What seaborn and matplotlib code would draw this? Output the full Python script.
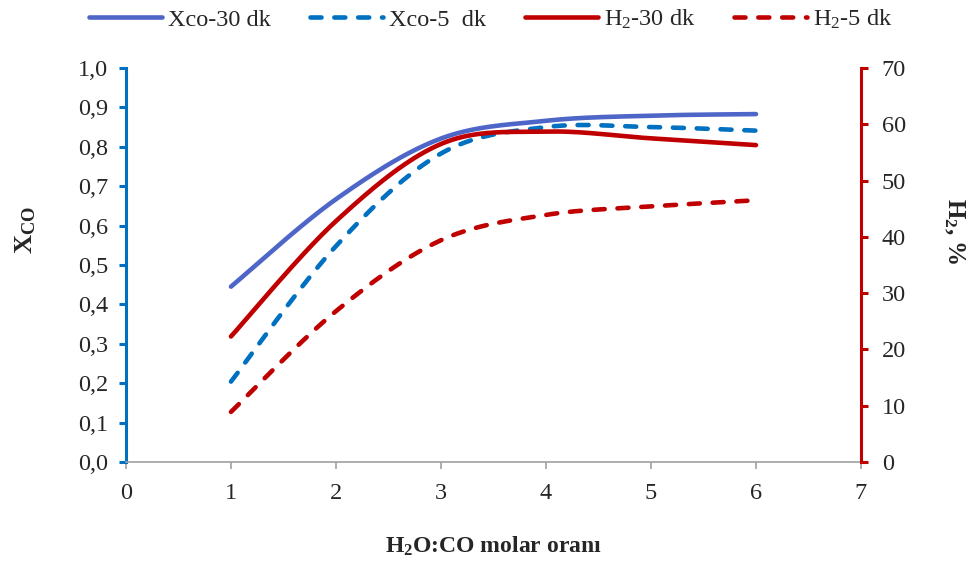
import numpy as np
import pandas as pd
import seaborn as sns
import matplotlib
matplotlib.use("Agg")
import matplotlib.pyplot as plt
from matplotlib.ticker import FuncFormatter, MultipleLocator

# H2O:CO molar ratio and measured results
ratio = [1, 2, 3, 4, 5, 6]
xco_30 = [0.445, 0.667, 0.821, 0.866, 0.879, 0.883]
xco_5 = [0.204, 0.548, 0.783, 0.850, 0.850, 0.841]
h2_30 = [22.3, 42.8, 56.5, 58.7, 57.5, 56.3]
h2_5 = [8.9, 26.8, 39.4, 43.9, 45.4, 46.5]

labels = ["Xco-30 dk", "Xco-5  dk", "H$_2$-30 dk", "H$_2$-5 dk"]
BLUE1 = "#4F66C9"
BLUE2 = "#0070C0"
RED = "#C00000"

sns.set_style("white")
plt.rcParams["font.family"] = ["Liberation Serif", "DejaVu Serif"]
plt.rcParams["mathtext.fontset"] = "custom"
plt.rcParams["mathtext.rm"] = "Liberation Serif"
plt.rcParams["mathtext.it"] = "Liberation Serif:italic"
plt.rcParams["mathtext.bf"] = "Liberation Serif:bold"


def smooth(x, y, n=40):
    """Smoothed line through the points (Catmull-Rom / Bezier style)."""
    x = np.asarray(x, float)
    y = np.asarray(y, float)
    px = np.concatenate([[x[0]], x, [x[-1]]])
    py = np.concatenate([[y[0]], y, [y[-1]]])
    xs, ys = [], []
    for i in range(1, len(px) - 2):
        p0 = np.array([px[i], py[i]])
        p3 = np.array([px[i + 1], py[i + 1]])
        c1 = p0 + (np.array([px[i + 1], py[i + 1]]) - np.array([px[i - 1], py[i - 1]])) / 6
        c2 = p3 - (np.array([px[i + 2], py[i + 2]]) - np.array([px[i], py[i]])) / 6
        t = np.linspace(0, 1, n)[:, None]
        pts = ((1 - t) ** 3) * p0 + 3 * ((1 - t) ** 2) * t * c1 + 3 * (1 - t) * t ** 2 * c2 + t ** 3 * p3
        if i > 1:
            pts = pts[1:]
        xs.append(pts[:, 0])
        ys.append(pts[:, 1])
    return np.concatenate(xs), np.concatenate(ys)


fig = plt.figure(figsize=(9.72, 5.61), dpi=100)
ax = fig.add_axes([0.1296, 0.1765, 0.8858 - 0.1296, 0.8788 - 0.1765])
ax2 = ax.twinx()

LW = 3.3
DASHED = (0, (2.4, 2.8))

sx, sy = smooth(ratio, xco_30)
sns.lineplot(x=sx, y=sy, ax=ax, color=BLUE1, lw=LW, sort=False,
             solid_capstyle="round", label=labels[0], legend=False)
sx, sy = smooth(ratio, xco_5)
sns.lineplot(x=sx, y=sy, ax=ax, color=BLUE2, lw=LW, sort=False,
             linestyle=DASHED, dash_capstyle="round", label=labels[1], legend=False)

sx, sy = smooth(ratio, h2_30)
sns.lineplot(x=sx, y=sy, ax=ax2, color=RED, lw=LW, sort=False,
             solid_capstyle="round", label=labels[2], legend=False)
sx, sy = smooth(ratio, h2_5)
sns.lineplot(x=sx, y=sy, ax=ax2, color=RED, lw=LW, sort=False,
             linestyle=DASHED, dash_capstyle="round", label=labels[3], legend=False)

ax.set_xlim(0, 7)
ax.set_ylim(0, 1.0)
ax2.set_ylim(0, 70)
ax.xaxis.set_major_locator(MultipleLocator(1))
ax.yaxis.set_major_locator(MultipleLocator(0.1))
ax2.yaxis.set_major_locator(MultipleLocator(10))
ax.yaxis.set_major_formatter(FuncFormatter(lambda v, p: f"{v:.1f}".replace(".", ",")))
ax2.yaxis.set_major_formatter(FuncFormatter(lambda v, p: f"{v:.0f}"))

for a in (ax, ax2):
    for s in a.spines.values():
        s.set_visible(False)

ax.spines["left"].set_visible(True)
ax.spines["left"].set_color(BLUE2)
ax.spines["left"].set_linewidth(2.2)
ax.spines["bottom"].set_visible(True)
ax.spines["bottom"].set_color("#A0A0A0")
ax.spines["bottom"].set_linewidth(1.2)
ax2.spines["right"].set_visible(True)
ax2.spines["right"].set_color(RED)
ax2.spines["right"].set_linewidth(2.2)

FS = 17.5
ax.tick_params(axis="y", which="major", direction="out", length=5, width=2.2,
               color=BLUE2, labelsize=FS, pad=8, left=True)
ax.tick_params(axis="x", which="major", direction="out", length=5, width=1.2,
               color="#A0A0A0", labelsize=FS, pad=10, bottom=True)
ax2.tick_params(axis="y", which="major", direction="out", length=5, width=2.2,
                color=RED, labelsize=FS, pad=10, right=True)

ax.set_xlabel("H$_\\mathbf{2}$O:CO molar oranı", fontsize=17, fontweight="bold", labelpad=22)
ax.set_ylabel("X$_\\mathbf{CO}$", fontsize=19, fontweight="bold")
ax.yaxis.set_label_coords(-0.12, 0.59)
ax2.set_ylabel("H$_\\mathbf{2}$, %", fontsize=18, fontweight="bold", rotation=-90,
               va="center")
ax2.yaxis.set_label_coords(1.127, 0.585)

ax.grid(False)
ax2.grid(False)

handles = ax.lines[:2] + ax2.lines[:2]
fig.legend(handles, labels, loc="upper center", bbox_to_anchor=(0.505, 1.025),
           ncol=4, frameon=False, fontsize=FS, handlelength=3.0,
           handletextpad=0.25, columnspacing=1.6)

fig.savefig("out.png", dpi=100)
